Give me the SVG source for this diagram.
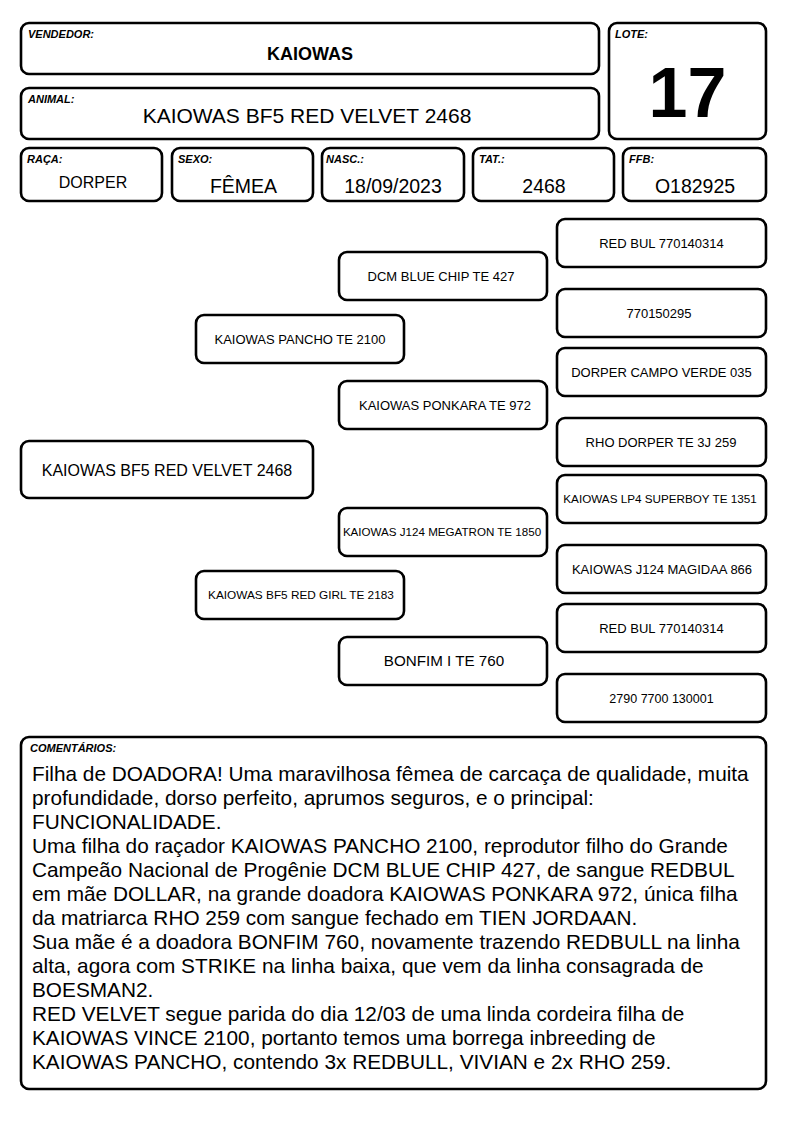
<svg xmlns="http://www.w3.org/2000/svg" width="794" height="1123" viewBox="0 0 794 1123">
<style>
.box{fill:#fff;stroke:#000;stroke-width:2.6}
.lbl{font-family:"Liberation Sans",Arial,sans-serif;font-weight:bold;font-style:italic;font-size:11px;fill:#000}
.val{font-family:"Liberation Sans",Arial,sans-serif;font-size:19.5px;fill:#000;text-anchor:middle}
.ped{font-family:"Liberation Sans",Arial,sans-serif;font-size:13px;fill:#000;text-anchor:middle}
.cm{font-family:"Liberation Sans",Arial,sans-serif;font-size:20.8px;fill:#000}
</style>
<rect width="794" height="1123" fill="#fff"/>
<g id="vendedor">
<rect class="box" x="21" y="23" width="578" height="51" rx="8"/>
<text class="lbl" x="28" y="38">VENDEDOR:</text>
<text x="310" y="60" style="font-family:'Liberation Sans',Arial,sans-serif;font-weight:bold;font-size:18px" text-anchor="middle">KAIOWAS</text>
</g>
<g id="animal">
<rect class="box" x="21" y="88" width="578" height="51" rx="8"/>
<text class="lbl" x="28" y="103">ANIMAL:</text>
<text x="307" y="123" style="font-family:'Liberation Sans',Arial,sans-serif;font-size:21px" text-anchor="middle">KAIOWAS BF5 RED VELVET 2468</text>
</g>
<g id="lote">
<rect class="box" x="609" y="23" width="157" height="116" rx="8"/>
<text class="lbl" x="615" y="38">LOTE:</text>
<text x="687.5" y="117" style="font-family:'Liberation Sans',Arial,sans-serif;font-weight:bold;font-size:70px" text-anchor="middle">17</text>
</g>
<g id="raca">
<rect class="box" x="21" y="148" width="141" height="53" rx="8"/>
<text class="lbl" x="27" y="163">RAÇA:</text>
<text class="val" x="93" y="188" style="font-size:16px">DORPER</text>
</g>
<g id="sexo">
<rect class="box" x="172" y="148" width="141" height="53" rx="8"/>
<text class="lbl" x="178" y="163">SEXO:</text>
<text class="val" x="243.5" y="193">FÊMEA</text>
</g>
<g id="nasc">
<rect class="box" x="322" y="148" width="142" height="53" rx="8"/>
<text class="lbl" x="326" y="163">NASC.:</text>
<text class="val" x="393" y="193">18/09/2023</text>
</g>
<g id="tat">
<rect class="box" x="473" y="148" width="141" height="53" rx="8"/>
<text class="lbl" x="479" y="163">TAT.:</text>
<text class="val" x="544" y="193">2468</text>
</g>
<g id="ffb">
<rect class="box" x="623" y="148" width="143" height="53" rx="8"/>
<text class="lbl" x="629" y="163">FFB:</text>
<text class="val" x="695" y="193">O182925</text>
</g>
<g id="ped-animal">
<rect class="box" x="21" y="441" width="292" height="57" rx="8"/>
<text class="ped" x="167" y="476" style="font-size:16px">KAIOWAS BF5 RED VELVET 2468</text>
</g>
<g id="ped-pai">
<rect class="box" x="196" y="315" width="208" height="48" rx="8"/>
<text class="ped" x="300" y="344">KAIOWAS PANCHO TE 2100</text>
</g>
<g id="ped-mae">
<rect class="box" x="196" y="571" width="208" height="48" rx="8"/>
<text class="ped" x="301" y="599" style="font-size:11.8px">KAIOWAS BF5 RED GIRL TE 2183</text>
</g>
<g id="ped-avo-pp">
<rect class="box" x="339" y="252" width="208" height="48" rx="8"/>
<text class="ped" x="441" y="281">DCM BLUE CHIP TE 427</text>
</g>
<g id="ped-avo-pm">
<rect class="box" x="339" y="381" width="208" height="48" rx="8"/>
<text class="ped" x="445" y="410">KAIOWAS PONKARA TE 972</text>
</g>
<g id="ped-avo-mp">
<rect class="box" x="339" y="508" width="208" height="48" rx="8"/>
<text class="ped" x="442" y="536" style="font-size:11.6px">KAIOWAS J124 MEGATRON TE 1850</text>
</g>
<g id="ped-avo-mm">
<rect class="box" x="339" y="637" width="208" height="48" rx="8"/>
<text class="ped" x="444" y="666" style="font-size:15.2px">BONFIM I TE 760</text>
</g>
<g id="ped-b1">
<rect class="box" x="557" y="219" width="209" height="48" rx="8"/>
<text class="ped" x="661.5" y="247.5">RED BUL 770140314</text>
</g>
<g id="ped-b2">
<rect class="box" x="557" y="289" width="209" height="48" rx="8"/>
<text class="ped" x="659" y="317.5">770150295</text>
</g>
<g id="ped-b3">
<rect class="box" x="557" y="348" width="209" height="48" rx="8"/>
<text class="ped" x="661.5" y="376.5">DORPER CAMPO VERDE 035</text>
</g>
<g id="ped-b4">
<rect class="box" x="557" y="418" width="209" height="48" rx="8"/>
<text class="ped" x="661" y="446.5">RHO DORPER TE 3J 259</text>
</g>
<g id="ped-b5">
<rect class="box" x="557" y="475" width="209" height="48" rx="8"/>
<text class="ped" x="660" y="503" style="font-size:11.7px">KAIOWAS LP4 SUPERBOY TE 1351</text>
</g>
<g id="ped-b6">
<rect class="box" x="557" y="545" width="209" height="48" rx="8"/>
<text class="ped" x="662" y="573.5">KAIOWAS J124 MAGIDAA 866</text>
</g>
<g id="ped-b7">
<rect class="box" x="557" y="604" width="209" height="48" rx="8"/>
<text class="ped" x="661.5" y="632.5">RED BUL 770140314</text>
</g>
<g id="ped-b8">
<rect class="box" x="557" y="674" width="209" height="48" rx="8"/>
<text class="ped" x="661.5" y="702.5" style="font-size:12.5px">2790 7700 130001</text>
</g>
<g id="connectors"></g>
<g id="comentarios">
<rect class="box" x="21" y="737" width="745" height="352" rx="8"/>
<text class="lbl" x="30" y="752">COMENTÁRIOS:</text>
<text class="cm">
<tspan x="32" y="781">Filha de DOADORA! Uma maravilhosa fêmea de carcaça de qualidade, muita</tspan>
<tspan x="32" y="805">profundidade, dorso perfeito, aprumos seguros, e o principal:</tspan>
<tspan x="32" y="829">FUNCIONALIDADE.</tspan>
<tspan x="32" y="853">Uma filha do raçador KAIOWAS PANCHO 2100, reprodutor filho do Grande</tspan>
<tspan x="32" y="877">Campeão Nacional de Progênie DCM BLUE CHIP 427, de sangue REDBUL</tspan>
<tspan x="32" y="901">em mãe DOLLAR, na grande doadora KAIOWAS PONKARA 972, única filha</tspan>
<tspan x="32" y="925">da matriarca RHO 259 com sangue fechado em TIEN JORDAAN.</tspan>
<tspan x="32" y="949">Sua mãe é a doadora BONFIM 760, novamente trazendo REDBULL na linha</tspan>
<tspan x="32" y="973">alta, agora com STRIKE na linha baixa, que vem da linha consagrada de</tspan>
<tspan x="32" y="997">BOESMAN2.</tspan>
<tspan x="32" y="1021">RED VELVET segue parida do dia 12/03 de uma linda cordeira filha de</tspan>
<tspan x="32" y="1045">KAIOWAS VINCE 2100, portanto temos uma borrega inbreeding de</tspan>
<tspan x="32" y="1069">KAIOWAS PANCHO, contendo 3x REDBULL, VIVIAN e 2x RHO 259.</tspan>
</text>
</g>
</svg>
